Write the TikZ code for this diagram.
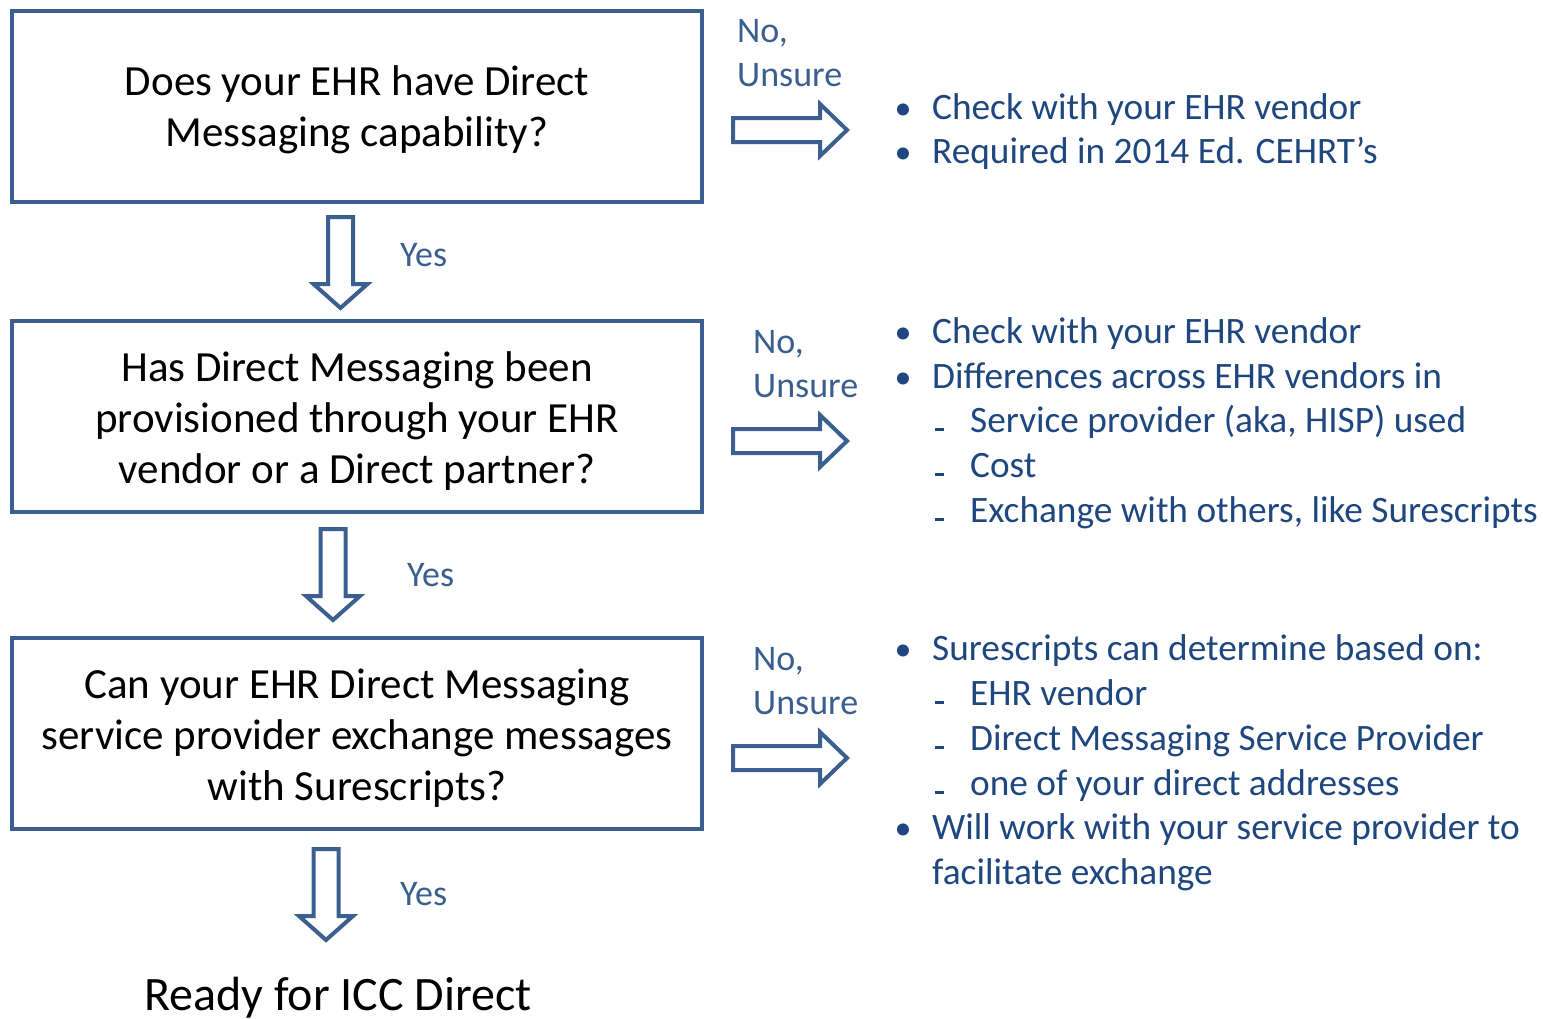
\documentclass[tikz,border=0pt]{standalone}
\usepackage{fontspec}
\setmainfont{Carlito}
\definecolor{boxblue}{HTML}{3B5F8F}
\definecolor{labblue}{HTML}{3A5F8F}
\definecolor{txtblue}{HTML}{1F477F}
\tikzset{
  qbox/.style={draw=boxblue, line width=4pt, minimum width=690pt, minimum height=191pt, inner sep=0pt},
  qtext/.style={inner sep=0pt, align=center, text=black, font=\fontsize{43}{51}\selectfont},
  blockarrow/.style={draw=boxblue, line width=4pt, fill=white, line join=miter},
  lab/.style={inner sep=0pt, anchor=base west, align=left, text=labblue, font=\fontsize{36}{44}\selectfont},
  yeslab/.style={inner sep=0pt, anchor=base west, text=labblue, font=\fontsize{36}{44}\selectfont},
  btxt/.style={inner sep=0pt, anchor=base west, text=txtblue, font=\fontsize{37.3}{44.5}\selectfont},
  bdot/.style={inner sep=0pt, anchor=base, text=txtblue, font=\fontsize{34}{44.5}\selectfont},
  bdash/.style={inner sep=0pt, anchor=base, text=txtblue},
}
\newcommand{\rblockarrow}[1]{%
  \draw[blockarrow] ([shift={(0,-12)}]#1) -- ++(87,0) -- ++(0,-14) -- ++(27,26) -- ++(-27,26) -- ++(0,-14) -- ++(-87,0) -- cycle;}
\newcommand{\dblockarrow}[1]{%
  \draw[blockarrow] ([shift={(-12.5,0)}]#1) -- ++(0,67) -- ++(-14.5,0) -- ++(27,24) -- ++(27,-24) -- ++(-14.5,0) -- ++(0,-67) -- cycle;}
\newcommand{\bitem}[2]{%
  \node[bdot] at (903,#1) {•};
  \node[btxt] at (932,#1) {#2};}
\newcommand{\ditem}[2]{%
  \node[bdash] at (939,#1) {\rule[1pt]{9pt}{3pt}};
  \node[btxt] at (970,#1) {#2};}
\begin{document}
\begin{tikzpicture}[x=1pt,y=-1pt]
\useasboundingbox (0,0) rectangle (1543,1018);
\fill[white] (0,0) rectangle (1543,1018);

\node[qbox] (q1) at (357,106) {};
\node[qbox] (q2) at (357,416.5) {};
\node[qbox] (q3) at (357,733.5) {};
\node[qtext] (q1t) at ([yshift=-3.5pt]q1.center) {Does your EHR have Direct\\Messaging capability?};
\node[qtext] (q2t) at ([yshift=-5pt]q2.center) {Has Direct Messaging been\\provisioned through your EHR\\vendor or a Direct partner?};
\node[qtext] (q3t) at ([yshift=-5pt]q3.center) {Can your EHR Direct Messaging\\service provider exchange messages\\with Surescripts?};
\node[inner sep=0pt, anchor=base, font=\fontsize{48}{58}\selectfont] (ready) at (338,1010) {Ready for ICC Direct};

% right arrows
\coordinate (r1) at (733,130);
\coordinate (r2) at (733,441);
\coordinate (r3) at (733,758);
\rblockarrow{r1}
\rblockarrow{r2}
\rblockarrow{r3}

% down arrows
\coordinate (d1) at (340.5,217);
\coordinate (d2) at (333,529);
\coordinate (d3) at (326,849);
\dblockarrow{d1}
\dblockarrow{d2}
\dblockarrow{d3}

% labels
\node[lab] (n1) at (737,86) {No,\\Unsure};
\node[lab] (n2) at (753,397) {No,\\Unsure};
\node[lab] (n3) at (753,714) {No,\\Unsure};
\node[yeslab] (y1) at (400,266) {Yes};
\node[yeslab] (y2) at (407,586) {Yes};
\node[yeslab] (y3) at (400,905) {Yes};

% bullets block 1
\bitem{119}{Check with your EHR vendor}
\bitem{163}{Required in 2014 Ed. CEHRT’s}
% block 2
\bitem{343}{Check with your EHR vendor}
\bitem{388}{Differences across EHR vendors in}
\ditem{432}{Service provider (aka, HISP) used}
\ditem{477}{Cost}
\ditem{522}{Exchange with others, like Surescripts}
% block 3
\bitem{660}{Surescripts can determine based on:}
\ditem{705}{EHR vendor}
\ditem{750}{Direct Messaging Service Provider}
\ditem{795}{one of your direct addresses}
\bitem{839}{Will work with your service provider to}
\node[btxt] at (932,884) {facilitate exchange};
\end{tikzpicture}
\end{document}
